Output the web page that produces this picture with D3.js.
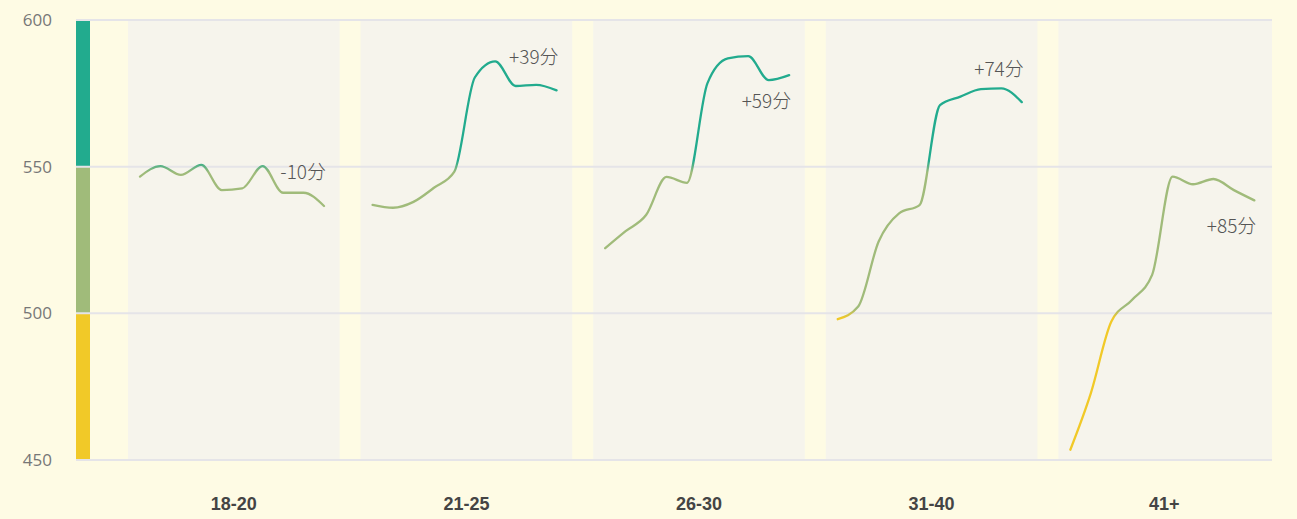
<!DOCTYPE html>
<html>
<head>
<meta charset="utf-8">
<script src="https://cdn.jsdelivr.net/npm/d3@7"></script>
<style>
  html, body { margin: 0; padding: 0; background: #FEFBE4; }
  svg { display: block; }
</style>
</head>
<body>
<svg id="chart" width="1297" height="519"></svg>
<script>
// ---- data ----
const categories = ["18-20", "21-25", "26-30", "31-40", "41+"];
const series1820 = [546.6, 550.2, 547.2, 550.6, 542.0, 542.6, 550.2, 541.1, 541.1, 536.6];
const series2125 = [537.0, 536.0, 538.0, 542.8, 548.3, 580.4, 585.9, 577.5, 577.9, 576.0];
const series2630 = [522.2, 528.0, 533.5, 546.5, 544.5, 578.4, 586.9, 587.7, 579.5, 581.2];
const series3140 = [498.0, 502.3, 524.5, 534.1, 536.9, 571.0, 573.9, 576.4, 576.7, 572.0];
const series41 = [453.5, 472.7, 497.1, 504.5, 513.1, 546.6, 544.0, 545.8, 542.0, 538.5];
const yTicks = [450, 500, 550, 600];
const bandBreaks = [450, 500, 550, 600];
const labelSide = ["above", "above", "below", "above", "below"];

const allSeries = [series1820, series2125, series2630, series3140, series41];

// ---- layout / style ----
const W = 1297, H = 519;
const plotLeft = 76, plotRight = 1272, yTop = 20, yBottom = 460;
const colors = { low: "#F1C928", mid: "#A0BB7A", high: "#22AB8E" };
const bandColors = [colors.low, colors.mid, colors.high];

const svg = d3.select("#chart");
svg.append("rect").attr("width", W).attr("height", H).attr("fill", "#FEFBE4");

const y = d3.scaleLinear().domain([450, 600]).range([yBottom, yTop]);
const x = d3.scaleBand().domain(categories).range([128, 1270]).paddingInner(0.09).paddingOuter(0);

// panel backgrounds
svg.append("g").selectAll("rect").data(categories).join("rect")
  .attr("x", d => x(d))
  .attr("y", yTop)
  .attr("width", (d, i) => i === categories.length - 1 ? plotRight - x(d) : x.bandwidth())
  .attr("height", yBottom - yTop)
  .attr("fill", "#F6F4EC");

// color bar
const bands = d3.pairs(bandBreaks);
svg.append("g").selectAll("rect").data(bands).join("rect")
  .attr("x", plotLeft)
  .attr("y", d => y(d[1]))
  .attr("width", 14)
  .attr("height", d => y(d[0]) - y(d[1]))
  .attr("fill", (d, i) => bandColors[i]);

// gridlines
svg.append("g").selectAll("line").data(yTicks).join("line")
  .attr("x1", plotLeft).attr("x2", plotRight)
  .attr("y1", d => y(d)).attr("y2", d => y(d))
  .attr("stroke", "#E5E4E8").attr("stroke-width", 2);

// y axis labels
const yAxis = d3.axisLeft(y).tickValues(yTicks).tickSize(0).tickPadding(0);
const yg = svg.append("g").attr("transform", `translate(52,0)`).call(yAxis);
yg.select(".domain").remove();
yg.selectAll("text")
  .attr("font-family", "'Open Sans', 'Noto Sans', sans-serif")
  .attr("font-size", 17)
  .attr("fill", "#777");

// x axis labels
const xAxis = d3.axisBottom(x).tickSize(0).tickPadding(0);
const xg = svg.append("g").attr("transform", `translate(0,504)`).call(xAxis);
xg.select(".domain").remove();
xg.selectAll("text")
  .attr("dy", "0.35em")
  .attr("font-family", "'Liberation Sans', Arial, sans-serif")
  .attr("font-weight", "bold")
  .attr("font-size", 18)
  .attr("fill", "#444");

// gradient for lines (by value)
const defs = svg.append("defs");
const grad = defs.append("linearGradient")
  .attr("id", "valGrad")
  .attr("gradientUnits", "userSpaceOnUse")
  .attr("x1", 0).attr("x2", 0)
  .attr("y1", y(450)).attr("y2", y(600));
const off = v => (v - 450) / 150;
[
  [450, colors.low], [498.5, colors.low], [501.5, colors.mid],
  [548, colors.mid], [552, colors.high], [600, colors.high]
].forEach(([v, c]) => grad.append("stop").attr("offset", off(v)).attr("stop-color", c));

// lines
const idx = d3.range(10);
allSeries.forEach((vals, i) => {
  const b = x(categories[i]);
  const px = d3.scalePoint().domain(idx).range([b + 12, b + 196]);
  const line = d3.line().x((d, j) => px(j)).y(d => y(d)).curve(d3.curveMonotoneX);
  svg.append("path")
    .datum(vals)
    .attr("d", line)
    .attr("fill", "none")
    .attr("stroke", "url(#valGrad)")
    .attr("stroke-width", 2.3)
    .attr("stroke-linecap", "round")
    .attr("stroke-linejoin", "round");

  const first = vals[0], last = vals[vals.length - 1];
  const delta = Math.round(last - first);
  const txt = (delta > 0 ? "+" : "") + delta + "分";
  const lx = px(vals.length - 1) + 2;
  const ly = y(last) + (labelSide[i] === "above" ? -35 : 24);
  svg.append("text")
    .attr("x", lx).attr("y", ly)
    .attr("text-anchor", "end")
    .attr("dominant-baseline", "central")
    .attr("font-family", "'Noto Sans CJK SC', 'Noto Sans', sans-serif")
    .attr("font-size", 19)
    .attr("font-weight", 300)
    .attr("fill", "#555")
    .text(txt);
});
</script>
</body>
</html>
